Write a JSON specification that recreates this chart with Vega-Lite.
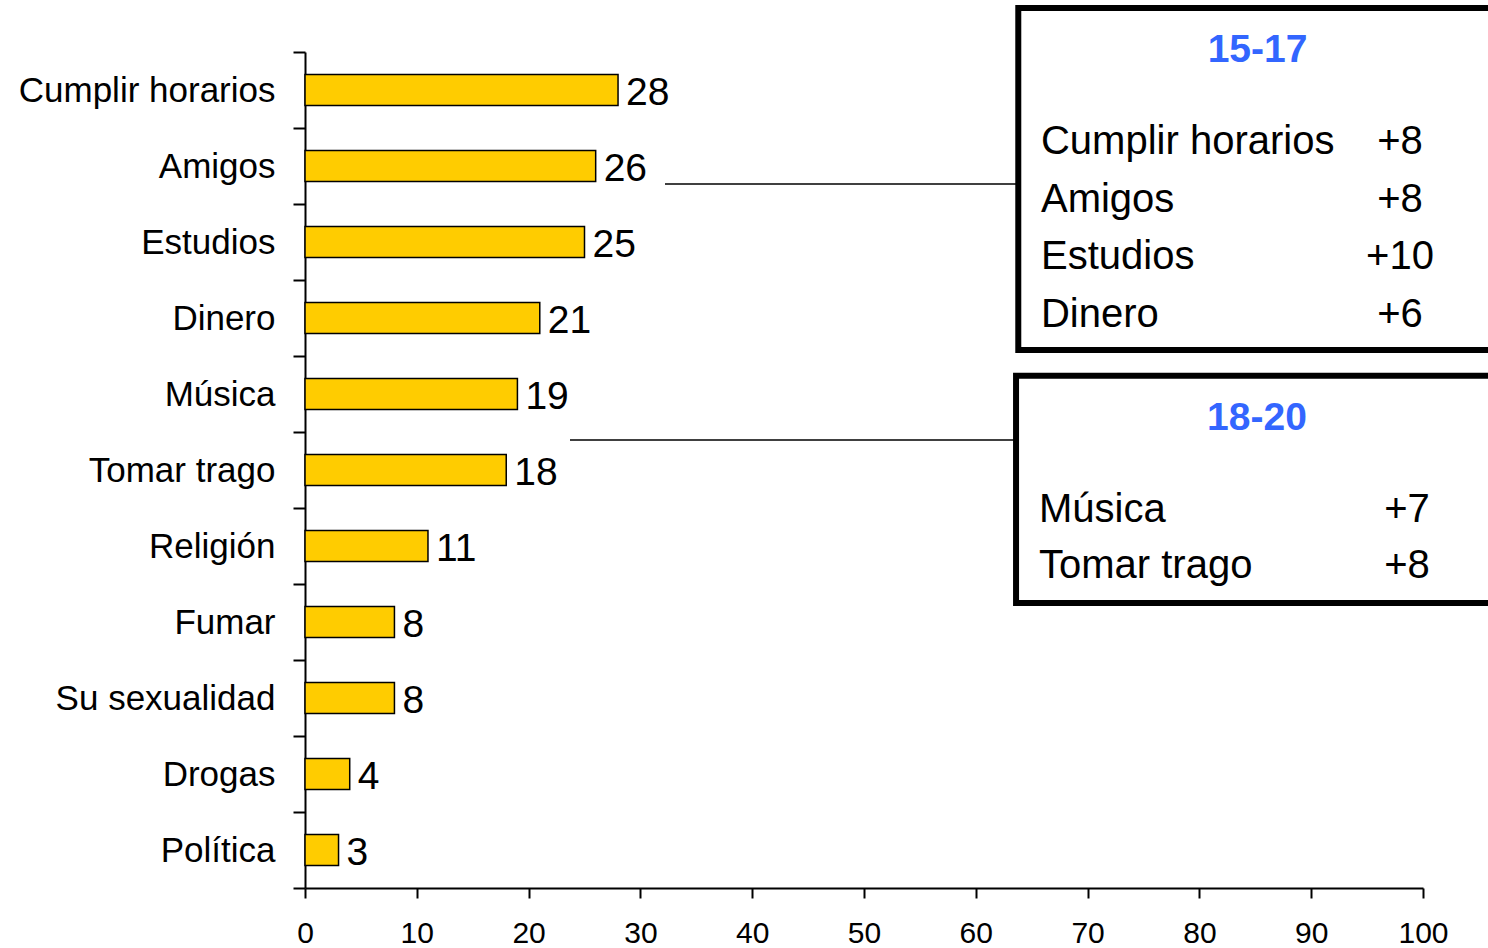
{
  "$schema": "https://vega.github.io/schema/vega-lite/v6.json",
  "width": 1118,
  "height": 836,
  "autosize": {"type": "none"},
  "padding": {"left": 305, "top": 52, "right": 65, "bottom": 60},
  "background": "white",
  "config": {"view": {"stroke": null}, "font": "Liberation Sans"},
  "layer": [
    {
      "data": {"values": [
        {"tema": "Cumplir horarios", "valor": 28},
        {"tema": "Amigos", "valor": 26},
        {"tema": "Estudios", "valor": 25},
        {"tema": "Dinero", "valor": 21},
        {"tema": "Música", "valor": 19},
        {"tema": "Tomar trago", "valor": 18},
        {"tema": "Religión", "valor": 11},
        {"tema": "Fumar", "valor": 8},
        {"tema": "Su sexualidad", "valor": 8},
        {"tema": "Drogas", "valor": 4},
        {"tema": "Política", "valor": 3}
      ]},
      "encoding": {
        "y": {"field": "tema", "type": "nominal", "sort": null,
          "scale": {"paddingInner": 0, "paddingOuter": 0},
          "axis": {"title": null, "domainColor": "black", "domainWidth": 2, "tickColor": "black", "tickWidth": 2, "tickSize": 12, "tickBand": "extent", "labelFontSize": 35, "labelColor": "black", "labelPadding": 18, "labelLimit": 500, "labelFont": "Liberation Sans"}},
        "x": {"field": "valor", "type": "quantitative",
          "scale": {"domain": [0, 100], "nice": false},
          "axis": {"title": null, "values": [0,10,20,30,40,50,60,70,80,90,100], "grid": false, "labelFlush": false, "domainColor": "black", "domainWidth": 2, "tickColor": "black", "tickWidth": 2, "tickSize": 10, "labelFontSize": 30, "labelColor": "black", "labelPadding": 20, "labelFont": "Liberation Sans"}}
      },
      "layer": [
        {"mark": {"type": "bar", "fill": "#FFCC00", "stroke": "black", "strokeWidth": 1.5, "height": {"band": 0.41}}},
        {"mark": {"type": "text", "align": "left", "baseline": "middle", "dx": 8, "dy": 3, "fontSize": 39, "color": "black"},
         "encoding": {"text": {"field": "valor", "type": "quantitative"}}}
      ]
    },
    {
      "layer": [
        {
          "data": {"values": [
            {"caja": "15-17", "x": 63.8, "x2": 107.3, "y": -0.58, "y2": 3.92},
            {"caja": "18-20", "x": 63.6, "x2": 107.3, "y": 4.26, "y2": 7.25}
          ]},
          "mark": {"type": "rect", "fill": "white", "stroke": "black", "strokeWidth": 6, "clip": false},
          "encoding": {
            "x": {"field": "x", "type": "quantitative", "scale": {"domain": [0, 100], "nice": false}, "axis": null},
            "x2": {"field": "x2"},
            "y": {"field": "y", "type": "quantitative", "scale": {"domain": [0, 11], "reverse": true, "nice": false, "zero": false}, "axis": null},
            "y2": {"field": "y2"}
          }
        },
        {
          "data": {"values": [
            {"x": 32.2, "x2": 63.8, "y": 1.737},
            {"x": 23.7, "x2": 63.6, "y": 5.105}
          ]},
          "mark": {"type": "rule", "color": "black", "strokeWidth": 1.5},
          "encoding": {
            "x": {"field": "x", "type": "quantitative", "axis": null},
            "x2": {"field": "x2"},
            "y": {"field": "y", "type": "quantitative", "axis": null}
          }
        },
        {
          "data": {"values": [
            {"t": "15-17", "x": 85.2, "y": -0.03},
            {"t": "18-20", "x": 85.15, "y": 4.82}
          ]},
          "mark": {"type": "text", "align": "center", "baseline": "middle", "fontSize": 39, "fontWeight": "bold", "color": "#3366FF"},
          "encoding": {
            "x": {"field": "x", "type": "quantitative", "axis": null},
            "y": {"field": "y", "type": "quantitative", "axis": null},
            "text": {"field": "t"}
          }
        },
        {
          "data": {"values": [
            {"tema": "Cumplir horarios", "cambio": "+8", "x": 65.83, "xv": 97.94, "y": 1.342},
            {"tema": "Amigos", "cambio": "+8", "x": 65.83, "xv": 97.94, "y": 2.099},
            {"tema": "Estudios", "cambio": "+10", "x": 65.83, "xv": 97.94, "y": 2.855},
            {"tema": "Dinero", "cambio": "+6", "x": 65.83, "xv": 97.94, "y": 3.612},
            {"tema": "Música", "cambio": "+7", "x": 65.65, "xv": 98.57, "y": 6.18},
            {"tema": "Tomar trago", "cambio": "+8", "x": 65.65, "xv": 98.57, "y": 6.92}
          ]},
          "layer": [
            {"mark": {"type": "text", "align": "left", "baseline": "alphabetic", "fontSize": 40, "color": "black"},
             "encoding": {
               "x": {"field": "x", "type": "quantitative", "axis": null},
               "y": {"field": "y", "type": "quantitative", "axis": null},
               "text": {"field": "tema"}
             }},
            {"mark": {"type": "text", "align": "center", "baseline": "alphabetic", "fontSize": 40, "color": "black"},
             "encoding": {
               "x": {"field": "xv", "type": "quantitative", "axis": null},
               "y": {"field": "y", "type": "quantitative", "axis": null},
               "text": {"field": "cambio"}
             }}
          ]
        }
      ]
    }
  ],
  "resolve": {"scale": {"y": "independent", "x": "independent"}}
}
